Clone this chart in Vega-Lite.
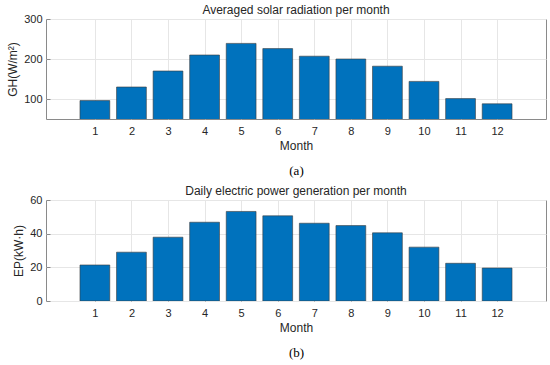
{
  "$schema": "https://vega.github.io/schema/vega-lite/v6.json",
  "padding": {"left": 6, "top": 3, "right": 4, "bottom": 4},
  "spacing": 6,
  "background": "white",
  "config": {
    "font": "Liberation Sans",
    "view": {"stroke": "#8a8a8a", "strokeWidth": 1},
    "axis": {
      "labelFont": "Liberation Sans",
      "labelFontSize": 11,
      "labelColor": "#262626",
      "titleFont": "Liberation Sans",
      "titleFontSize": 12,
      "titleFontWeight": "normal",
      "titleColor": "#262626",
      "gridColor": "#e6e6e6",
      "gridOpacity": 1,
      "domain": false,
      "ticks": true,
      "tickSize": -4,
      "tickColor": "#8a8a8a"
    },
    "title": {"font": "Liberation Sans", "fontSize": 12, "fontWeight": "normal", "color": "#262626", "offset": -4}
  },
  "datasets": {
    "gh": [
      {"month": 1, "value": 96}, {"month": 2, "value": 130}, {"month": 3, "value": 170},
      {"month": 4, "value": 210}, {"month": 5, "value": 239}, {"month": 6, "value": 226},
      {"month": 7, "value": 207}, {"month": 8, "value": 200}, {"month": 9, "value": 182},
      {"month": 10, "value": 144}, {"month": 11, "value": 101}, {"month": 12, "value": 88}
    ],
    "ep": [
      {"month": 1, "value": 21.4}, {"month": 2, "value": 29.0}, {"month": 3, "value": 37.9},
      {"month": 4, "value": 46.8}, {"month": 5, "value": 53.2}, {"month": 6, "value": 50.6},
      {"month": 7, "value": 46.2}, {"month": 8, "value": 44.8}, {"month": 9, "value": 40.5},
      {"month": 10, "value": 32.0}, {"month": 11, "value": 22.4}, {"month": 12, "value": 19.6}
    ]
  },
  "vconcat": [
    {
      "title": {"text": "Averaged solar radiation per month"},
      "width": 500,
      "height": 100,
      "data": {"name": "gh"},
      "resolve": {"axis": {"x": "independent"}},
      "layer": [
        {
          "mark": {"type": "bar", "width": 29.8, "color": "#0072BD", "stroke": "#3a3a3a", "strokeWidth": 0.6, "clip": true},
          "encoding": {
            "x": {"field": "month", "type": "quantitative", "scale": {"domain": [-0.2, 13.2], "nice": false, "zero": false},
                  "axis": {"values": [1,2,3,4,5,6,7,8,9,10,11,12], "title": "Month", "labelPadding": 10, "titlePadding": 4}},
            "y": {"field": "value", "type": "quantitative", "scale": {"domain": [50, 300], "nice": false, "zero": false},
                  "axis": {"values": [100, 200, 300], "title": "GH(W/m²)", "labelPadding": 8, "titlePadding": 4}}
          }
        },
        {
          "mark": {"type": "rule", "opacity": 0},
          "encoding": {
            "x": {"field": "month", "type": "quantitative", "scale": {"domain": [-0.2, 13.2], "nice": false, "zero": false},
                  "axis": {"orient": "bottom", "labels": false, "grid": false, "ticks": false, "title": "(a)", "titleFont": "Liberation Serif", "titleFontSize": 13, "titleColor": "#000000", "titlePadding": 45}}
          }
        }
      ]
    },
    {
      "title": {"text": "Daily electric power generation per month"},
      "width": 500,
      "height": 101,
      "data": {"name": "ep"},
      "resolve": {"axis": {"x": "independent"}},
      "layer": [
        {
          "mark": {"type": "bar", "width": 29.8, "color": "#0072BD", "stroke": "#3a3a3a", "strokeWidth": 0.6, "clip": true},
          "encoding": {
            "x": {"field": "month", "type": "quantitative", "scale": {"domain": [-0.2, 13.2], "nice": false, "zero": false},
                  "axis": {"values": [1,2,3,4,5,6,7,8,9,10,11,12], "title": "Month", "labelPadding": 10, "titlePadding": 4}},
            "y": {"field": "value", "type": "quantitative", "scale": {"domain": [0, 60], "nice": false},
                  "axis": {"values": [0, 20, 40, 60], "title": "EP(kW·h)", "labelPadding": 8, "titlePadding": 4}}
          }
        },
        {
          "mark": {"type": "rule", "opacity": 0},
          "encoding": {
            "x": {"field": "month", "type": "quantitative", "scale": {"domain": [-0.2, 13.2], "nice": false, "zero": false},
                  "axis": {"orient": "bottom", "labels": false, "grid": false, "ticks": false, "title": "(b)", "titleFont": "Liberation Serif", "titleFontSize": 13, "titleColor": "#000000", "titlePadding": 45}}
          }
        }
      ]
    }
  ]
}
